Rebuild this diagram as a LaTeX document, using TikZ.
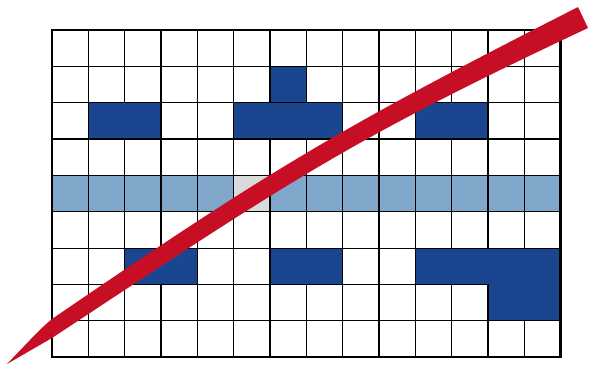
\documentclass[tikz,border=0pt]{standalone}
\definecolor{dkblue}{HTML}{1A4690}
\definecolor{ltblue}{HTML}{7FA7C9}
\definecolor{cellgray}{HTML}{D9DADC}
\definecolor{swoosh}{HTML}{C60F24}
\tikzset{
  gridline/.style={line width=1.2pt, black},
  block/.style={fill=dkblue, draw=black, line width=1.2pt},
  border/.style={line width=2.4pt, black},
}
\begin{document}
\begin{tikzpicture}[x=1pt,y=-1pt]
\useasboundingbox (0,0) rectangle (589,365);
\begin{scope}[xshift=52pt,yshift=-30pt,x=36.33pt,y=-36.36pt]
  \fill[ltblue] (0,4) rectangle (14,5);
  \fill[cellgray] (5,4) rectangle (6,5);
  \foreach \i in {1,...,13} \draw[gridline] (\i,0) -- (\i,9);
  \foreach \j in {1,...,8} \draw[gridline] (0,\j) -- (14,\j);
  \draw[block] (6,1) rectangle (7,2);
  \draw[block] (1,2) rectangle (3,3);
  \draw[block] (5,2) rectangle (8,3);
  \draw[block] (10,2) rectangle (12,3);
  \draw[block] (2,6) rectangle (4,7);
  \draw[block] (6,6) rectangle (8,7);
  \draw[block] (10,6) -- (14,6) -- (14,8) -- (12,8) -- (12,7) -- (10,7) -- cycle;
  \draw[border] (0,0) rectangle (14,9);
\end{scope}
\fill[swoosh] (7,364) .. controls (30,340) and (42,327) .. (52,319)
  .. controls (282,161.5) and (348,124.3) .. (578,7)
  -- (588,28) .. controls (348,140.8) and (292,179.6) .. (52,338)
  -- (7,364) -- cycle;
\end{tikzpicture}
\end{document}
